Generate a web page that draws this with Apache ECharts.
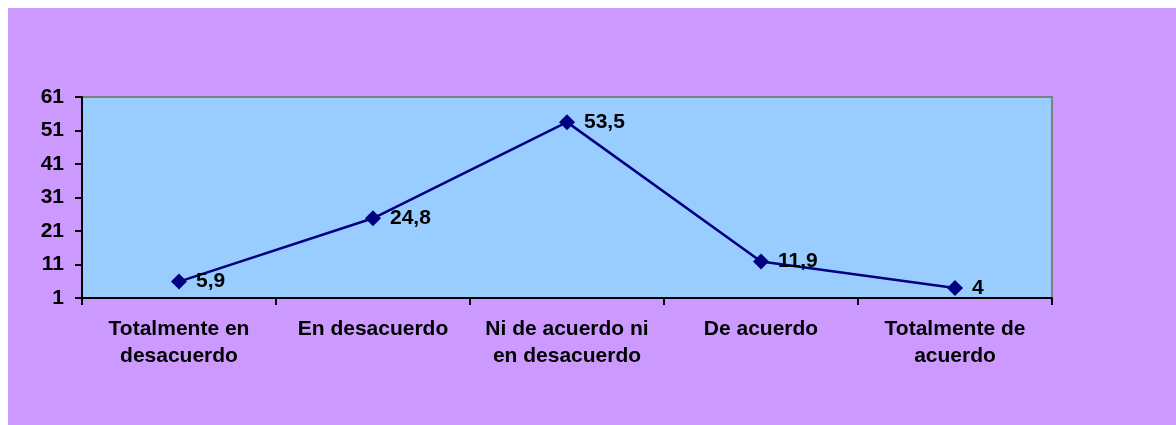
<!DOCTYPE html>
<html>
<head>
<meta charset="utf-8">
<script src="https://cdn.jsdelivr.net/npm/echarts@6/dist/echarts.min.js"></script>
<style>
  html, body { margin: 0; padding: 0; background: #ffffff; }
  #chart { width: 1176px; height: 425px; }
</style>
</head>
<body>
<div id="chart"></div>
<script>
// Survey answer categories (Likert scale) and their percentages
const categories = [
  'Totalmente en\ndesacuerdo',
  'En desacuerdo',
  'Ni de acuerdo ni\nen desacuerdo',
  'De acuerdo',
  'Totalmente de\nacuerdo'
];
const percentages = [5.9, 24.8, 53.5, 11.9, 4];
const yMin = 1;
const yMax = 61;
const yStep = 10;

const font = 'Arial, "Liberation Sans", sans-serif';

const chart = echarts.init(document.getElementById('chart'), null, { renderer: 'canvas' });

chart.setOption({
  backgroundColor: '#ffffff',
  animation: false,
  graphic: [{
    type: 'rect',
    z: -10,
    silent: true,
    shape: { x: 8, y: 8, width: 1168, height: 417 },
    style: { fill: '#CC99FF' }
  }],
  grid: {
    left: 82, right: 124, top: 97, bottom: 127,
    show: true,
    backgroundColor: '#99CCFF',
    borderColor: '#808080',
    borderWidth: 2
  },
  xAxis: {
    type: 'category',
    data: categories,
    boundaryGap: true,
    axisLine: { show: true, lineStyle: { color: '#000000', width: 2 } },
    axisTick: { show: true, alignWithLabel: false, length: 7, lineStyle: { color: '#000000', width: 2 } },
    axisLabel: {
      interval: 0,
      margin: 18,
      color: '#000000',
      fontFamily: font,
      fontWeight: 'bold',
      fontSize: 21,
      lineHeight: 27,
      align: 'center'
    },
    splitLine: { show: false }
  },
  yAxis: {
    type: 'value',
    min: yMin,
    max: yMax,
    interval: yStep,
    axisLine: { show: true, lineStyle: { color: '#000000', width: 2 } },
    axisTick: { show: true, length: 7, lineStyle: { color: '#000000', width: 2 } },
    axisLabel: {
      margin: 18,
      color: '#000000',
      fontFamily: font,
      fontWeight: 'bold',
      fontSize: 21
    },
    splitLine: { show: false }
  },
  series: [{
    type: 'line',
    data: percentages,
    symbol: 'diamond',
    symbolSize: 16,
    itemStyle: { color: '#000080' },
    lineStyle: { color: '#000080', width: 2.5 },
    label: {
      show: true,
      position: 'right',
      distance: 9,
      color: '#000000',
      fontFamily: font,
      fontWeight: 'bold',
      fontSize: 21,
      formatter: p => String(p.value).replace('.', ',')
    }
  }]
});
</script>
</body>
</html>
